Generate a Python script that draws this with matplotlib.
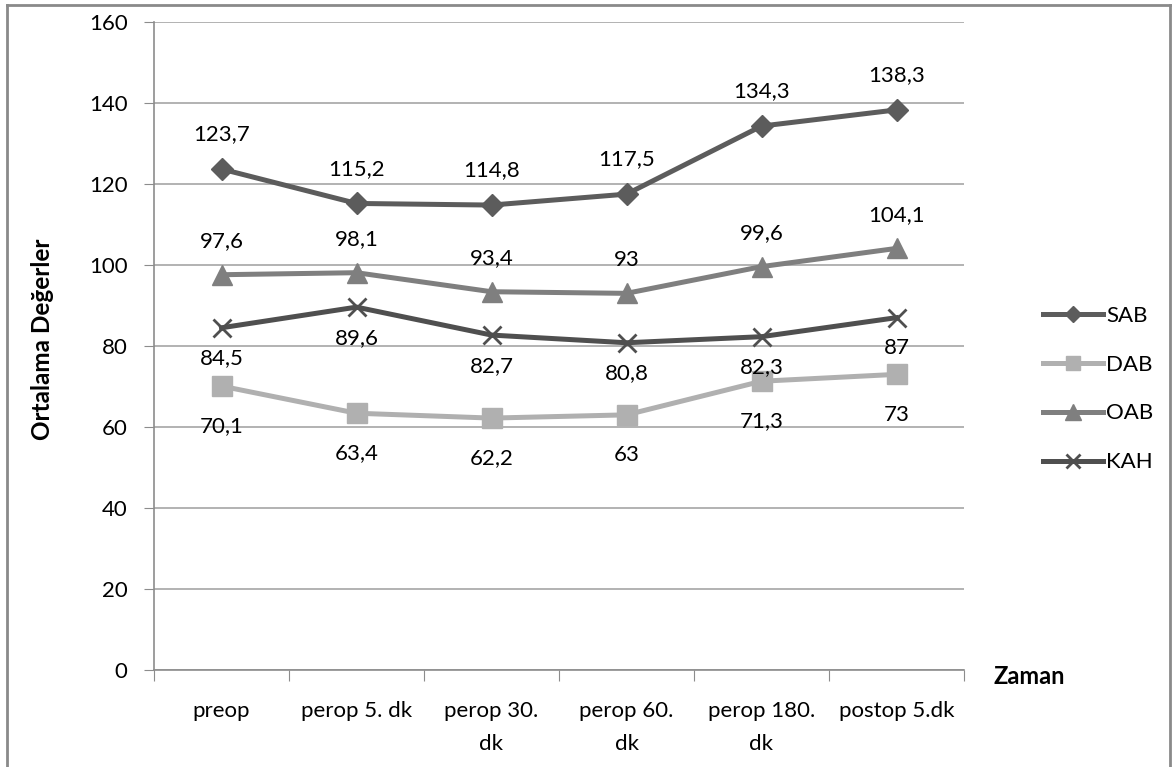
import matplotlib
matplotlib.use("Agg")
import matplotlib.pyplot as plt
from matplotlib.lines import Line2D

categories = ["preop", "perop 5. dk", "perop 30.\ndk", "perop 60.\ndk", "perop 180.\ndk", "postop 5.dk"]
sab = [123.7, 115.2, 114.8, 117.5, 134.3, 138.3]
dab = [70.1, 63.4, 62.2, 63, 71.3, 73]
oab = [97.6, 98.1, 93.4, 93, 99.6, 104.1]
kah = [84.5, 89.6, 82.7, 80.8, 82.3, 87]
y_ticks = [0, 20, 40, 60, 80, 100, 120, 140, 160]

plt.rcParams['font.family'] = ['Lato', 'DejaVu Sans']

W, H = 1174, 767
fig = plt.figure(figsize=(W / 100, H / 100), dpi=100)
fig.patch.set_facecolor("white")

# outer chart frame (open at the bottom edge of the image)
frame_col = "#8a8a8a"
fig.add_artist(Line2D([7 / W, 7 / W], [0, 1 - 5 / H], transform=fig.transFigure, color=frame_col, lw=2))
fig.add_artist(Line2D([7 / W, 1170 / W], [1 - 5 / H, 1 - 5 / H], transform=fig.transFigure, color=frame_col, lw=2))
fig.add_artist(Line2D([1170 / W, 1170 / W], [0, 1 - 5 / H], transform=fig.transFigure, color=frame_col, lw=2))

ax = fig.add_axes([154 / W, 1 - 670 / H, 810 / W, 648 / H])
ax.set_xlim(0, len(categories))
ax.set_ylim(0, 160)
ax.set_yticks(y_ticks)
ax.set_yticklabels([str(t) for t in y_ticks], fontsize=16)
ax.yaxis.grid(True, color="#a6a6a6", linewidth=1.2)
ax.set_axisbelow(True)
for side in ("top", "right"):
    ax.spines[side].set_visible(False)
for side in ("left", "bottom"):
    ax.spines[side].set_color("#8c8c8c")
    ax.spines[side].set_linewidth(1.2)
ax.tick_params(axis="y", length=7, color="#8c8c8c", pad=12)

# category labels centred between boundary ticks
xs = [i + 0.5 for i in range(len(categories))]
ax.set_xticks(range(len(categories) + 1))
ax.set_xticklabels([])
ax.set_xticks(xs, minor=True)
ax.set_xticklabels(categories, minor=True, fontsize=16, linespacing=1.85)
ax.tick_params(axis="x", which="major", length=8, color="#8c8c8c")
ax.tick_params(axis="x", which="minor", length=0, pad=22)

series = [
    ("SAB", sab, "#5c5c5c", "D", 11, 25),
    ("DAB", dab, "#b0b0b0", "s", 14, -29),
    ("OAB", oab, "#7f7f7f", "^", 15, 24),
    ("KAH", kah, "#4f4f4f", "x", 13, -22),
]

handles = []
for name, vals, col, mk, ms, dy in series:
    mew = 2 if mk == "x" else 1
    ax.plot(xs, vals, color=col, linewidth=3.6, marker=mk, markersize=ms,
            markeredgewidth=mew, markeredgecolor=col, markerfacecolor=col,
            clip_on=False, zorder=3)
    for x, v in zip(xs, vals):
        lab = f"{v:g}".replace(".", ",")
        ax.annotate(lab, (x, v), xytext=(0, dy), textcoords="offset points",
                    ha="center", va="center", fontsize=16, color="black", zorder=4)
    handles.append(Line2D([0], [0], color=col, linewidth=3.6, marker=mk, markersize=ms * 0.75,
                          markeredgewidth=mew, markeredgecolor=col, markerfacecolor=col))

fig.legend(handles, [s[0] for s in series], loc="center left",
           bbox_to_anchor=(1034 / W, 1 - 389 / H), frameon=False, fontsize=16,
           handlelength=2.7, handletextpad=0.15, labelspacing=1.3, borderaxespad=0)

fig.text(43 / W, 1 - 339 / H, "Ortalama Değerler", rotation=90, ha="center", va="center",
         fontsize=17.5, fontweight="bold")
fig.text(993 / W, 1 - 677 / H, "Zaman", ha="left", va="center", fontsize=17, fontweight="bold")

fig.savefig("out.png", dpi=100)
